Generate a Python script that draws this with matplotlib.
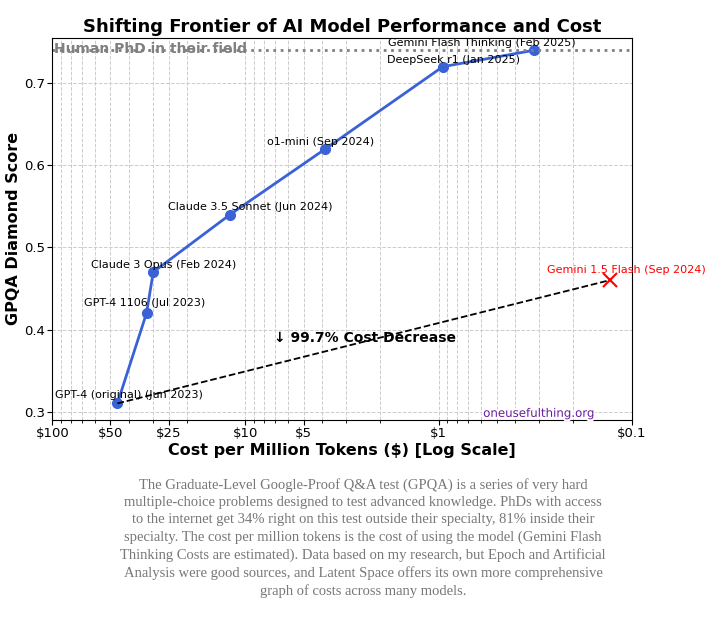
import matplotlib.pyplot as plt
import matplotlib.patheffects as pe
from matplotlib.ticker import FixedLocator, FixedFormatter, NullFormatter

models = ["GPT-4 (original) (Jun 2023)", "GPT-4 1106 (Jul 2023)", "Claude 3 Opus (Feb 2024)",
          "Claude 3.5 Sonnet (Jun 2024)", "o1-mini (Sep 2024)", "DeepSeek r1 (Jan 2025)",
          "Gemini Flash Thinking (Feb 2025)"]
costs = [46, 32.5, 30, 12, 3.85, 0.95, 0.32]
scores = [0.31, 0.42, 0.47, 0.54, 0.62, 0.72, 0.74]
flash_name = "Gemini 1.5 Flash (Sep 2024)"
flash_cost = 0.13
flash_score = 0.46
phd_level = 0.74
tick_vals = [100, 50, 25, 10, 5, 1, 0.1]
tick_labels = ["$100", "$50", "$25", "$10", "$5", "$1", "$0.1"]

fig = plt.figure(figsize=(7.26, 6.22), dpi=100)
ax = fig.add_axes([0.072, 0.325, 0.798, 0.614])

ax.plot(costs, scores, "-o", color="#3a62d6", lw=2, ms=7)
ax.plot([costs[0], flash_cost], [scores[0], flash_score], "k--", lw=1.3)
ax.plot(flash_cost, flash_score, "x", color="red", ms=10, mew=1.5)
ax.axhline(phd_level, color="gray", ls=":", lw=2)
ax.text(0.003, 0.99, "Human PhD in their field", transform=ax.transAxes,
        color="gray", fontsize=10, fontweight="bold", va="top")

offsets = [(-45, 4), (-45, 5), (-45, 3), (-45, 3), (-42, 3), (-40, 3), (-105, 3)]
for name, c, s, (dx, dy) in zip(models, costs, scores, offsets):
    ax.annotate(name, (c, s), xytext=(dx, dy), textcoords="offset points", fontsize=8)
ax.annotate(flash_name, (flash_cost, flash_score), xytext=(-45, 5),
            textcoords="offset points", fontsize=8, color="red")
ax.text(2.4, 0.385, "↓ 99.7% Cost Decrease", fontsize=10, fontweight="bold", ha="center")
ax.text(0.84, 0.0, "oneusefulthing.org", transform=ax.transAxes, color="#6a1b9a",
        fontsize=8.5, ha="center", va="bottom",
        path_effects=[pe.withStroke(linewidth=3, foreground="white")])

ax.set_xscale("log")
ax.set_xlim(100, 0.1)
ax.set_ylim(0.29, 0.755)
ax.xaxis.set_major_locator(FixedLocator(tick_vals))
ax.xaxis.set_major_formatter(FixedFormatter(tick_labels))
ax.xaxis.set_minor_formatter(NullFormatter())
ax.tick_params(labelsize=9.5, pad=2)
ax.grid(True, which="both", ls="--", color="#cccccc", lw=0.7)
ax.set_xlabel("Cost per Million Tokens ($) [Log Scale]", fontsize=11.5, fontweight="bold",
              labelpad=2)
ax.set_ylabel("GPQA Diamond Score", fontsize=11.5, fontweight="bold", labelpad=2)
ax.set_title("Shifting Frontier of AI Model Performance and Cost", fontsize=13,
             fontweight="bold", pad=4)

caption = ("The Graduate-Level Google-Proof Q&A test (GPQA) is a series of very hard\n"
           "multiple-choice problems designed to test advanced knowledge. PhDs with access\n"
           "to the internet get 34% right on this test outside their specialty, 81% inside their\n"
           "specialty. The cost per million tokens is the cost of using the model (Gemini Flash\n"
           "Thinking Costs are estimated). Data based on my research, but Epoch and Artificial\n"
           "Analysis were good sources, and Latent Space offers its own more comprehensive\n"
           "graph of costs across many models.")
fig.text(0.5, 0.232, caption, ha="center", va="top", fontsize=10.5,
         family="Liberation Serif", color="#777777", linespacing=1.4)

fig.savefig("out.png", dpi=100)
